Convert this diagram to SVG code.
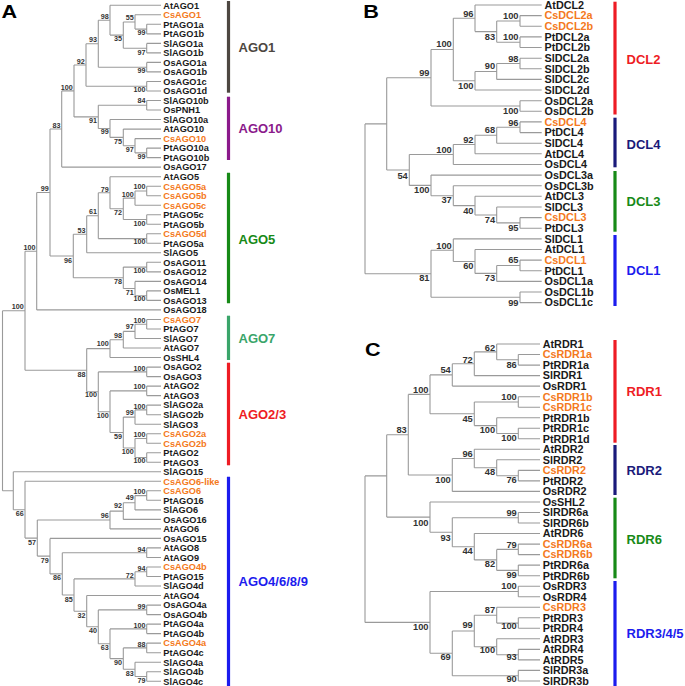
<svg xmlns="http://www.w3.org/2000/svg" width="685" height="686" viewBox="0 0 685 686">
<style>
text{font-family:"Liberation Sans",Arial,sans-serif;font-weight:bold}
.br{fill:none;stroke:#9a9a9a;stroke-width:1.1}
.la{font-size:9.2px;fill:#1a1a1a}
.lb{font-size:10.8px;fill:#1a1a1a}
.o{fill:#f47920}
.ba{font-size:7.2px;fill:#333;text-anchor:end}
.bb{font-size:9.3px;fill:#333;text-anchor:end}
.gl{font-size:13px}
.bar{stroke-width:3.2}
.pl{font-size:18px;fill:#000}
</style>
<rect width="685" height="686" fill="#fff"/>
<text class="pl" transform="translate(1.5,18.3) scale(1.2,1)">A</text>
<text class="pl" transform="translate(363.3,18.3) scale(1.2,1)">B</text>
<text class="pl" transform="translate(365,356.3) scale(1.2,1)">C</text>
<g id="connectors">
<path class="br" d="M146.7 24.3V33.9M146.7 24.3H161M146.7 33.9H161M135 14.8V29.1M135 14.8H161M135 29.1H146.7M146.7 43.4V52.9M146.7 43.4H161M146.7 52.9H161M123.3 22V48.2M123.3 22H135M123.3 48.2H146.7M110 5.3V35.1M110 5.3H161M110 35.1H123.3M146.7 62.4V71.9M146.7 62.4H161M146.7 71.9H161M98.3 20.2V67.2M98.3 20.2H110M98.3 67.2H146.7M146.7 81.5V91M146.7 81.5H161M146.7 91H161M86 43.7V86.3M86 43.7H98.3M86 86.3H146.7M146.7 100.5V110M146.7 100.5H161M146.7 110H161M146.7 148.1V157.6M146.7 148.1H161M146.7 157.6H161M135 138.6V152.9M135 138.6H161M135 152.9H146.7M123.3 129.1V145.7M123.3 129.1H161M123.3 145.7H135M110 119.5V137.4M110 119.5H161M110 137.4H123.3M98.3 105.3V128.5M98.3 105.3H146.7M98.3 128.5H110M74 65V116.9M74 65H86M74 116.9H98.3M61.7 90.9V167.1M61.7 90.9H74M61.7 167.1H161M146.7 186.2V195.7M146.7 186.2H161M146.7 195.7H161M135 191V205.2M135 191H146.7M135 205.2H161M146.7 214.7V224.3M146.7 214.7H161M146.7 224.3H161M123.3 198.1V219.5M123.3 198.1H135M123.3 219.5H146.7M110 176.7V208.8M110 176.7H161M110 208.8H123.3M146.7 233.8V243.3M146.7 233.8H161M146.7 243.3H161M98.3 192.8V238.6M98.3 192.8H110M98.3 238.6H146.7M86.7 215.7V252.8M86.7 215.7H98.3M86.7 252.8H161M146.7 262.3V271.9M146.7 262.3H161M146.7 271.9H161M146.7 290.9V300.4M146.7 290.9H161M146.7 300.4H161M135 281.4V295.7M135 281.4H161M135 295.7H146.7M123.3 267.1V288.5M123.3 267.1H146.7M123.3 288.5H135M73.3 234.2V277.8M73.3 234.2H86.7M73.3 277.8H123.3M50 129V256M50 129H61.7M50 256H73.3M36.7 192.5V309.9M36.7 192.5H50M36.7 309.9H161M146.7 319.5V329M146.7 319.5H161M146.7 329H161M135 324.3V338.5M135 324.3H146.7M135 338.5H161M123.3 331.4V348M123.3 331.4H135M123.3 348H161M110 339.7V357.5M110 339.7H123.3M110 357.5H161M146.7 367.1V376.6M146.7 367.1H161M146.7 376.6H161M146.7 386.1V395.6M146.7 386.1H161M146.7 395.6H161M146.7 405.1V414.7M146.7 405.1H161M146.7 414.7H161M135 409.9V424.2M135 409.9H146.7M135 424.2H161M146.7 433.7V443.2M146.7 433.7H161M146.7 443.2H161M146.7 452.7V462.3M146.7 452.7H161M146.7 462.3H161M135 438.5V457.5M135 438.5H146.7M135 457.5H146.7M123.3 417.1V448M123.3 417.1H135M123.3 448H135M110 390.9V432.5M110 390.9H146.7M110 432.5H123.3M98.3 371.9V411.7M98.3 371.9H146.7M98.3 411.7H110M86.7 348.6V391.8M86.7 348.6H110M86.7 391.8H98.3M25 251.2V370.2M25 251.2H36.7M25 370.2H86.7M146.7 490.8V500.3M146.7 490.8H161M146.7 500.3H161M135 495.6V509.9M135 495.6H146.7M135 509.9H161M123.3 502.7V519.4M123.3 502.7H135M123.3 519.4H161M110 511.1V528.9M110 511.1H123.3M110 528.9H161M146.7 547.9V557.5M146.7 547.9H161M146.7 557.5H161M146.7 567V576.5M146.7 567H161M146.7 576.5H161M135 571.8V586M135 571.8H146.7M135 586H161M146.7 605.1V614.6M146.7 605.1H161M146.7 614.6H161M146.7 624.1V633.6M146.7 624.1H161M146.7 633.6H161M146.7 643.1V652.7M146.7 643.1H161M146.7 652.7H161M146.7 671.7V681.2M146.7 671.7H161M146.7 681.2H161M135 662.2V676.5M135 662.2H161M135 676.5H146.7M123.3 647.9V669.3M123.3 647.9H146.7M123.3 669.3H135M110 628.9V658.6M110 628.9H146.7M110 658.6H123.3M98.3 609.9V643.7M98.3 609.9H146.7M98.3 643.7H110M86.7 595.5V626.8M86.7 595.5H161M86.7 626.8H98.3M74 578.9V611.2M74 578.9H135M74 611.2H86.7M62.3 552.7V595M62.3 552.7H146.7M62.3 595H74M50 538.4V573.9M50 538.4H161M50 573.9H62.3M37.3 520V556.1M37.3 520H110M37.3 556.1H50M25 481.3V538.1M25 481.3H161M25 538.1H37.3M13.3 471.8V509.7M13.3 471.8H161M13.3 509.7H25M2.5 310.7V490.8M2.5 310.7H25M2.5 490.8H13.3"/>
<path class="br" d="M520 15.6V26.3M520 15.6H541.7M520 26.3H541.7M520 36.9V47.5M520 36.9H541.7M520 47.5H541.7M496.7 21V42.2M496.7 21H520M496.7 42.2H520M475 5V31.6M475 5H541.7M475 31.6H496.7M520 58.2V68.8M520 58.2H541.7M520 68.8H541.7M496.7 63.5V79.4M496.7 63.5H520M496.7 79.4H541.7M475 71.5V90M475 71.5H496.7M475 90H541.7M453.3 18.3V80.7M453.3 18.3H475M453.3 80.7H475M520 100.7V111.3M520 100.7H541.7M520 111.3H541.7M431 49.5V106M431 49.5H453.3M431 106H520M520 121.9V132.6M520 121.9H541.7M520 132.6H541.7M496.7 127.3V143.2M496.7 127.3H520M496.7 143.2H541.7M475 135.2V153.8M475 135.2H496.7M475 153.8H541.7M453.3 144.5V164.5M453.3 144.5H475M453.3 164.5H541.7M520 217.6V228.2M520 217.6H541.7M520 228.2H541.7M496.7 207V222.9M496.7 207H541.7M496.7 222.9H520M475 196.3V215M475 196.3H541.7M475 215H496.7M453.3 185.7V205.6M453.3 185.7H541.7M453.3 205.6H475M431 175.1V195.7M431 175.1H541.7M431 195.7H453.3M409.3 154.5V185.4M409.3 154.5H453.3M409.3 185.4H431M386.7 77.8V170M386.7 77.8H431M386.7 170H409.3M520 260.1V270.8M520 260.1H541.7M520 270.8H541.7M496.7 265.5V281.4M496.7 265.5H520M496.7 281.4H541.7M475 249.5V273.4M475 249.5H541.7M475 273.4H496.7M453.3 238.9V261.5M453.3 238.9H541.7M453.3 261.5H475M520 292V302.6M520 292H541.7M520 302.6H541.7M431 250.2V297.3M431 250.2H453.3M431 297.3H520M365 123.9V273.8M365 123.9H386.7M365 273.8H431"/>
<path class="br" d="M518.3 354.5V365.1M518.3 354.5H540M518.3 365.1H540M496.7 344V359.8M496.7 344H540M496.7 359.8H518.3M474.3 351.9V375.6M474.3 351.9H496.7M474.3 375.6H540M452.3 363.8V386.1M452.3 363.8H474.3M452.3 386.1H540M518.3 396.7V407.2M518.3 396.7H540M518.3 407.2H540M518.3 428.2V438.8M518.3 428.2H540M518.3 438.8H540M496.7 417.7V433.5M496.7 417.7H540M496.7 433.5H518.3M474.3 402V425.6M474.3 402H518.3M474.3 425.6H496.7M430 374.9V413.8M430 374.9H452.3M430 413.8H474.3M518.3 470.4V480.9M518.3 470.4H540M518.3 480.9H540M496.7 459.8V475.7M496.7 459.8H540M496.7 475.7H518.3M474.3 449.3V467.7M474.3 449.3H540M474.3 467.7H496.7M452.3 458.5V491.4M452.3 458.5H474.3M452.3 491.4H540M408.3 394.4V475M408.3 394.4H430M408.3 475H452.3M518.3 512.5V523M518.3 512.5H540M518.3 523H540M518.3 544.1V554.6M518.3 544.1H540M518.3 554.6H540M518.3 565.1V575.7M518.3 565.1H540M518.3 575.7H540M496.7 549.4V570.4M496.7 549.4H518.3M496.7 570.4H518.3M474.3 533.5V559.9M474.3 533.5H540M474.3 559.9H496.7M452.3 517.8V546.7M452.3 517.8H518.3M452.3 546.7H474.3M430 502V532.2M430 502H540M430 532.2H452.3M386.7 434.7V517.1M386.7 434.7H408.3M386.7 517.1H430M518.3 586.2V596.7M518.3 586.2H540M518.3 596.7H540M518.3 617.8V628.3M518.3 617.8H540M518.3 628.3H540M496.7 607.3V623.1M496.7 607.3H540M496.7 623.1H518.3M518.3 649.4V659.9M518.3 649.4H540M518.3 659.9H540M496.7 638.8V654.7M496.7 638.8H540M496.7 654.7H518.3M474.3 615.2V646.7M474.3 615.2H496.7M474.3 646.7H496.7M518.3 670.4V681M518.3 670.4H540M518.3 681H540M452.3 631V675.7M452.3 631H474.3M452.3 675.7H518.3M430 591.5V653.3M430 591.5H518.3M430 653.3H452.3M365 475.9V622.4M365 475.9H386.7M365 622.4H430"/>
</g>
<g id="bootstrapA" class="ba">
<text x="108.8" y="18.6">98</text><text x="133.8" y="19.6">55</text><text x="145.5" y="34.9">99</text><text x="122.1" y="40.9">35</text><text x="97.1" y="41.6">93</text><text x="145.5" y="54.9">97</text><text x="84.8" y="63.6">92</text><text x="145.5" y="73.3">99</text><text x="72.8" y="89.9">100</text><text x="145.5" y="91.6">100</text><text x="145.5" y="103.3">84</text><text x="97.1" y="122.6">91</text><text x="60.5" y="127.6">83</text><text x="108.8" y="134.3">99</text><text x="122.1" y="143.6">75</text><text x="133.8" y="151.6">97</text><text x="145.5" y="158.6">99</text><text x="145.5" y="189.3">100</text><text x="48.8" y="190.9">99</text><text x="108.8" y="191.6">79</text><text x="133.8" y="196.6">100</text><text x="97.1" y="214.3">61</text><text x="122.1" y="215.3">72</text><text x="145.5" y="225.9">100</text><text x="85.5" y="233.3">53</text><text x="145.5" y="244.3">100</text><text x="35.5" y="249.9">100</text><text x="72.1" y="262.6">96</text><text x="145.5" y="272.6">100</text><text x="122.1" y="284.3">78</text><text x="133.8" y="294.9">71</text><text x="145.5" y="300.9">100</text><text x="23.8" y="308.6">100</text><text x="145.5" y="323.3">100</text><text x="133.8" y="329.3">97</text><text x="122.1" y="337.6">98</text><text x="108.8" y="345.9">100</text><text x="145.5" y="370.9">100</text><text x="85.5" y="376.6">88</text><text x="145.5" y="389.3">100</text><text x="97.1" y="396.9">100</text><text x="145.5" y="408.6">100</text><text x="133.8" y="415.3">99</text><text x="108.8" y="417.6">100</text><text x="145.5" y="436.6">100</text><text x="122.1" y="439.3">59</text><text x="133.8" y="453.6">100</text><text x="145.5" y="463.3">100</text><text x="145.5" y="494.3">100</text><text x="133.8" y="500.3">49</text><text x="122.1" y="508.3">92</text><text x="23.8" y="515.9">66</text><text x="108.8" y="517.6">96</text><text x="36.1" y="544.9">57</text><text x="145.5" y="551.6">94</text><text x="48.8" y="562.6">79</text><text x="145.5" y="570.9">94</text><text x="133.8" y="577.6">72</text><text x="61.1" y="580.3">86</text><text x="72.8" y="601.9">85</text><text x="145.5" y="608.6">99</text><text x="85.5" y="617.6">32</text><text x="145.5" y="628.3">100</text><text x="97.1" y="633.3">40</text><text x="145.5" y="646.6">88</text><text x="108.8" y="649.9">63</text><text x="122.1" y="665.3">90</text><text x="133.8" y="675.9">83</text><text x="145.5" y="682.6">79</text>
</g>
<g id="bootstrapB" class="bb">
<text x="473.5" y="16.6">96</text><text x="518.5" y="19">100</text><text x="518.5" y="40">100</text><text x="495.2" y="40">83</text><text x="451.8" y="46.6">100</text><text x="518.5" y="61.6">98</text><text x="495.2" y="69">90</text><text x="473.5" y="89">100</text><text x="429.5" y="76">99</text><text x="518.5" y="114.3">100</text><text x="518.5" y="125.6">96</text><text x="495.2" y="133.3">68</text><text x="473.5" y="142.6">92</text><text x="451.8" y="152.6">100</text><text x="407.8" y="179">54</text><text x="429.5" y="193.3">100</text><text x="451.8" y="203.3">37</text><text x="473.5" y="214">40</text><text x="495.2" y="223.3">74</text><text x="518.5" y="231">95</text><text x="451.8" y="249.3">100</text><text x="518.5" y="263.3">65</text><text x="473.5" y="269.3">60</text><text x="495.2" y="281">73</text><text x="429.5" y="281">81</text><text x="518.5" y="305.6">99</text>
</g>
<g id="bootstrapC" class="bb">
<text x="495.2" y="350.6">62</text><text x="516.8" y="368.3">86</text><text x="472.8" y="362.6">72</text><text x="450.8" y="373.3">54</text><text x="428.5" y="392.6">100</text><text x="516.8" y="400">100</text><text x="472.8" y="421.6">45</text><text x="495.2" y="432.6">100</text><text x="516.8" y="441">100</text><text x="406.8" y="433.3">83</text><text x="472.8" y="456.6">96</text><text x="495.2" y="475">48</text><text x="516.8" y="482.6">76</text><text x="450.8" y="483.3">100</text><text x="516.8" y="516">99</text><text x="428.5" y="525.6">100</text><text x="450.8" y="540.6">93</text><text x="516.8" y="547.6">79</text><text x="472.8" y="554">44</text><text x="495.2" y="566.6">82</text><text x="516.8" y="577.6">99</text><text x="516.8" y="589.3">100</text><text x="495.2" y="612.6">87</text><text x="472.8" y="627.6">99</text><text x="516.8" y="629.3">100</text><text x="428.5" y="630">100</text><text x="495.2" y="653.3">100</text><text x="516.8" y="660">93</text><text x="450.8" y="660">69</text><text x="516.8" y="681.6">90</text>
</g>
<g id="leavesA" class="la">
<text id="AtAGO1" x="163.3" y="8.6">AtAGO1</text>
<text id="CsAGO1" class="o" x="163.3" y="18.1">CsAGO1</text>
<text id="PtAGO1a" x="163.3" y="27.6">PtAGO1a</text>
<text id="PtAGO1b" x="163.3" y="37.2">PtAGO1b</text>
<text id="SlAGO1a" x="163.3" y="46.7">SlAGO1a</text>
<text id="SlAGO1b" x="163.3" y="56.2">SlAGO1b</text>
<text id="OsAGO1a" x="163.3" y="65.7">OsAGO1a</text>
<text id="OsAGO1b" x="163.3" y="75.2">OsAGO1b</text>
<text id="OsAGO1c" x="163.3" y="84.8">OsAGO1c</text>
<text id="OsAGO1d" x="163.3" y="94.3">OsAGO1d</text>
<text id="SlAGO10b" x="163.3" y="103.8">SlAGO10b</text>
<text id="OsPNH1" x="163.3" y="113.3">OsPNH1</text>
<text id="SlAGO10a" x="163.3" y="122.8">SlAGO10a</text>
<text id="AtAGO10" x="163.3" y="132.4">AtAGO10</text>
<text id="CsAGO10" class="o" x="163.3" y="141.9">CsAGO10</text>
<text id="PtAGO10a" x="163.3" y="151.4">PtAGO10a</text>
<text id="PtAGO10b" x="163.3" y="160.9">PtAGO10b</text>
<text id="OsAGO17" x="163.3" y="170.4">OsAGO17</text>
<text id="AtAGO5" x="163.3" y="180">AtAGO5</text>
<text id="CsAGO5a" class="o" x="163.3" y="189.5">CsAGO5a</text>
<text id="CsAGO5b" class="o" x="163.3" y="199">CsAGO5b</text>
<text id="CsAGO5c" class="o" x="163.3" y="208.5">CsAGO5c</text>
<text id="PtAGO5c" x="163.3" y="218">PtAGO5c</text>
<text id="PtAGO5b" x="163.3" y="227.6">PtAGO5b</text>
<text id="CsAGO5d" class="o" x="163.3" y="237.1">CsAGO5d</text>
<text id="PtAGO5a" x="163.3" y="246.6">PtAGO5a</text>
<text id="SlAGO5" x="163.3" y="256.1">SlAGO5</text>
<text id="OsAGO11" x="163.3" y="265.6">OsAGO11</text>
<text id="OsAGO12" x="163.3" y="275.2">OsAGO12</text>
<text id="OsAGO14" x="163.3" y="284.7">OsAGO14</text>
<text id="OsMEL1" x="163.3" y="294.2">OsMEL1</text>
<text id="OsAGO13" x="163.3" y="303.7">OsAGO13</text>
<text id="OsAGO18" x="163.3" y="313.2">OsAGO18</text>
<text id="CsAGO7" class="o" x="163.3" y="322.8">CsAGO7</text>
<text id="PtAGO7" x="163.3" y="332.3">PtAGO7</text>
<text id="SlAGO7" x="163.3" y="341.8">SlAGO7</text>
<text id="AtAGO7" x="163.3" y="351.3">AtAGO7</text>
<text id="OsSHL4" x="163.3" y="360.8">OsSHL4</text>
<text id="OsAGO2" x="163.3" y="370.4">OsAGO2</text>
<text id="OsAGO3" x="163.3" y="379.9">OsAGO3</text>
<text id="AtAGO2" x="163.3" y="389.4">AtAGO2</text>
<text id="AtAGO3" x="163.3" y="398.9">AtAGO3</text>
<text id="SlAGO2a" x="163.3" y="408.4">SlAGO2a</text>
<text id="SlAGO2b" x="163.3" y="418">SlAGO2b</text>
<text id="SlAGO3" x="163.3" y="427.5">SlAGO3</text>
<text id="CsAGO2a" class="o" x="163.3" y="437">CsAGO2a</text>
<text id="CsAGO2b" class="o" x="163.3" y="446.5">CsAGO2b</text>
<text id="PtAGO2" x="163.3" y="456">PtAGO2</text>
<text id="PtAGO3" x="163.3" y="465.6">PtAGO3</text>
<text id="SlAGO15" x="163.3" y="475.1">SlAGO15</text>
<text id="CsAGO6-like" class="o" x="163.3" y="484.6">CsAGO6-like</text>
<text id="CsAGO6" class="o" x="163.3" y="494.1">CsAGO6</text>
<text id="PtAGO16" x="163.3" y="503.6">PtAGO16</text>
<text id="SlAGO6" x="163.3" y="513.2">SlAGO6</text>
<text id="OsAGO16" x="163.3" y="522.7">OsAGO16</text>
<text id="AtAGO6" x="163.3" y="532.2">AtAGO6</text>
<text id="OsAGO15" x="163.3" y="541.7">OsAGO15</text>
<text id="AtAGO8" x="163.3" y="551.2">AtAGO8</text>
<text id="AtAGO9" x="163.3" y="560.8">AtAGO9</text>
<text id="CsAGO4b" class="o" x="163.3" y="570.3">CsAGO4b</text>
<text id="PtAGO15" x="163.3" y="579.8">PtAGO15</text>
<text id="SlAGO4d" x="163.3" y="589.3">SlAGO4d</text>
<text id="AtAGO4" x="163.3" y="598.8">AtAGO4</text>
<text id="OsAGO4a" x="163.3" y="608.4">OsAGO4a</text>
<text id="OsAGO4b" x="163.3" y="617.9">OsAGO4b</text>
<text id="PtAGO4a" x="163.3" y="627.4">PtAGO4a</text>
<text id="PtAGO4b" x="163.3" y="636.9">PtAGO4b</text>
<text id="CsAGO4a" class="o" x="163.3" y="646.4">CsAGO4a</text>
<text id="PtAGO4c" x="163.3" y="656">PtAGO4c</text>
<text id="SlAGO4a" x="163.3" y="665.5">SlAGO4a</text>
<text id="SlAGO4b" x="163.3" y="675">SlAGO4b</text>
<text id="SlAGO4c" x="163.3" y="684.5">SlAGO4c</text>
</g>
<g id="leavesB" class="lb">
<text id="AtDCL2" x="544.5" y="8.8">AtDCL2</text>
<text id="CsDCL2a" class="o" x="544.5" y="19.4">CsDCL2a</text>
<text id="CsDCL2b" class="o" x="544.5" y="30.1">CsDCL2b</text>
<text id="PtDCL2a" x="544.5" y="40.7">PtDCL2a</text>
<text id="PtDCL2b" x="544.5" y="51.3">PtDCL2b</text>
<text id="SlDCL2a" x="544.5" y="62">SlDCL2a</text>
<text id="SlDCL2b" x="544.5" y="72.6">SlDCL2b</text>
<text id="SlDCL2c" x="544.5" y="83.2">SlDCL2c</text>
<text id="SlDCL2d" x="544.5" y="93.8">SlDCL2d</text>
<text id="OsDCL2a" x="544.5" y="104.5">OsDCL2a</text>
<text id="OsDCL2b" x="544.5" y="115.1">OsDCL2b</text>
<text id="CsDCL4" class="o" x="544.5" y="125.7">CsDCL4</text>
<text id="PtDCL4" x="544.5" y="136.4">PtDCL4</text>
<text id="SlDCL4" x="544.5" y="147">SlDCL4</text>
<text id="AtDCL4" x="544.5" y="157.6">AtDCL4</text>
<text id="OsDCL4" x="544.5" y="168.3">OsDCL4</text>
<text id="OsDCL3a" x="544.5" y="178.9">OsDCL3a</text>
<text id="OsDCL3b" x="544.5" y="189.5">OsDCL3b</text>
<text id="AtDCL3" x="544.5" y="200.1">AtDCL3</text>
<text id="SlDCL3" x="544.5" y="210.8">SlDCL3</text>
<text id="CsDCL3" class="o" x="544.5" y="221.4">CsDCL3</text>
<text id="PtDCL3" x="544.5" y="232">PtDCL3</text>
<text id="SlDCL1" x="544.5" y="242.7">SlDCL1</text>
<text id="AtDCL1" x="544.5" y="253.3">AtDCL1</text>
<text id="CsDCL1" class="o" x="544.5" y="263.9">CsDCL1</text>
<text id="PtDCL1" x="544.5" y="274.6">PtDCL1</text>
<text id="OsDCL1a" x="544.5" y="285.2">OsDCL1a</text>
<text id="OsDCL1b" x="544.5" y="295.8">OsDCL1b</text>
<text id="OsDCL1c" x="544.5" y="306.4">OsDCL1c</text>
</g>
<g id="leavesC" class="lb">
<text id="AtRDR1" x="542.7" y="347.8">AtRDR1</text>
<text id="CsRDR1a" class="o" x="542.7" y="358.3">CsRDR1a</text>
<text id="PtRDR1a" x="542.7" y="368.9">PtRDR1a</text>
<text id="SlRDR1" x="542.7" y="379.4">SlRDR1</text>
<text id="OsRDR1" x="542.7" y="389.9">OsRDR1</text>
<text id="CsRDR1b" class="o" x="542.7" y="400.5">CsRDR1b</text>
<text id="CsRDR1c" class="o" x="542.7" y="411">CsRDR1c</text>
<text id="PtRDR1b" x="542.7" y="421.5">PtRDR1b</text>
<text id="PtRDR1c" x="542.7" y="432">PtRDR1c</text>
<text id="PtRDR1d" x="542.7" y="442.6">PtRDR1d</text>
<text id="AtRDR2" x="542.7" y="453.1">AtRDR2</text>
<text id="SlRDR2" x="542.7" y="463.6">SlRDR2</text>
<text id="CsRDR2" class="o" x="542.7" y="474.2">CsRDR2</text>
<text id="PtRDR2" x="542.7" y="484.7">PtRDR2</text>
<text id="OsRDR2" x="542.7" y="495.2">OsRDR2</text>
<text id="OsSHL2" x="542.7" y="505.8">OsSHL2</text>
<text id="SlRDR6a" x="542.7" y="516.3">SlRDR6a</text>
<text id="SlRDR6b" x="542.7" y="526.8">SlRDR6b</text>
<text id="AtRDR6" x="542.7" y="537.3">AtRDR6</text>
<text id="CsRDR6a" class="o" x="542.7" y="547.9">CsRDR6a</text>
<text id="CsRDR6b" class="o" x="542.7" y="558.4">CsRDR6b</text>
<text id="PtRDR6a" x="542.7" y="568.9">PtRDR6a</text>
<text id="PtRDR6b" x="542.7" y="579.5">PtRDR6b</text>
<text id="OsRDR3" x="542.7" y="590">OsRDR3</text>
<text id="OsRDR4" x="542.7" y="600.5">OsRDR4</text>
<text id="CsRDR3" class="o" x="542.7" y="611.1">CsRDR3</text>
<text id="PtRDR3" x="542.7" y="621.6">PtRDR3</text>
<text id="PtRDR4" x="542.7" y="632.1">PtRDR4</text>
<text id="AtRDR3" x="542.7" y="642.6">AtRDR3</text>
<text id="AtRDR4" x="542.7" y="653.2">AtRDR4</text>
<text id="AtRDR5" x="542.7" y="663.7">AtRDR5</text>
<text id="SlRDR3a" x="542.7" y="674.2">SlRDR3a</text>
<text id="SlRDR3b" x="542.7" y="684.8">SlRDR3b</text>
</g>
<g id="group-AGO1"><line class="bar" x1="228.5" y1="1" x2="228.5" y2="92.7" stroke="#4d4741"/><text class="gl" x="238.5" y="52.3" fill="#4d4741">AGO1</text></g>
<g id="group-AGO10"><line class="bar" x1="228.5" y1="96.7" x2="228.5" y2="160" stroke="#8b1a8b"/><text class="gl" x="238.5" y="133" fill="#8b1a8b">AGO10</text></g>
<g id="group-AGO5"><line class="bar" x1="228.5" y1="172.7" x2="228.5" y2="303.3" stroke="#178a17"/><text class="gl" x="238.5" y="243.7" fill="#178a17">AGO5</text></g>
<g id="group-AGO7"><line class="bar" x1="228.5" y1="315.7" x2="228.5" y2="360" stroke="#3aa56a"/><text class="gl" x="238.5" y="343" fill="#3aa56a">AGO7</text></g>
<g id="group-AGO23"><line class="bar" x1="228.5" y1="362.7" x2="228.5" y2="465.3" stroke="#ee1c24"/><text class="gl" x="238.5" y="418.7" fill="#ee1c24">AGO2/3</text></g>
<g id="group-AGO4689"><line class="bar" x1="228.5" y1="476.7" x2="228.5" y2="686" stroke="#1c1cee"/><text class="gl" x="238.5" y="585.7" fill="#1c1cee">AGO4/6/8/9</text></g>
<g id="group-DCL2"><line class="bar" x1="615" y1="1.7" x2="615" y2="114.5" stroke="#ee1c24"/><text class="gl" x="626.5" y="63.7" fill="#ee1c24">DCL2</text></g>
<g id="group-DCL4"><line class="bar" x1="615" y1="117.7" x2="615" y2="167.3" stroke="#1a1a7a"/><text class="gl" x="626.5" y="148.7" fill="#1a1a7a">DCL4</text></g>
<g id="group-DCL3"><line class="bar" x1="615" y1="171" x2="615" y2="231.7" stroke="#178a17"/><text class="gl" x="626.5" y="206.4" fill="#178a17">DCL3</text></g>
<g id="group-DCL1"><line class="bar" x1="615" y1="235" x2="615" y2="306" stroke="#1c1cee"/><text class="gl" x="626.5" y="275.4" fill="#1c1cee">DCL1</text></g>
<g id="group-RDR1"><line class="bar" x1="615" y1="340" x2="615" y2="442.7" stroke="#ee1c24"/><text class="gl" x="626.5" y="396.4" fill="#ee1c24">RDR1</text></g>
<g id="group-RDR2"><line class="bar" x1="615" y1="445" x2="615" y2="495" stroke="#1a1a7a"/><text class="gl" x="626.5" y="475.4" fill="#1a1a7a">RDR2</text></g>
<g id="group-RDR6"><line class="bar" x1="615" y1="497.7" x2="615" y2="578.3" stroke="#178a17"/><text class="gl" x="626.5" y="543.7" fill="#178a17">RDR6</text></g>
<g id="group-RDR345"><line class="bar" x1="615" y1="581" x2="615" y2="686" stroke="#1c1cee"/><text class="gl" x="626.5" y="638" fill="#1c1cee">RDR3/4/5</text></g>
</svg>
